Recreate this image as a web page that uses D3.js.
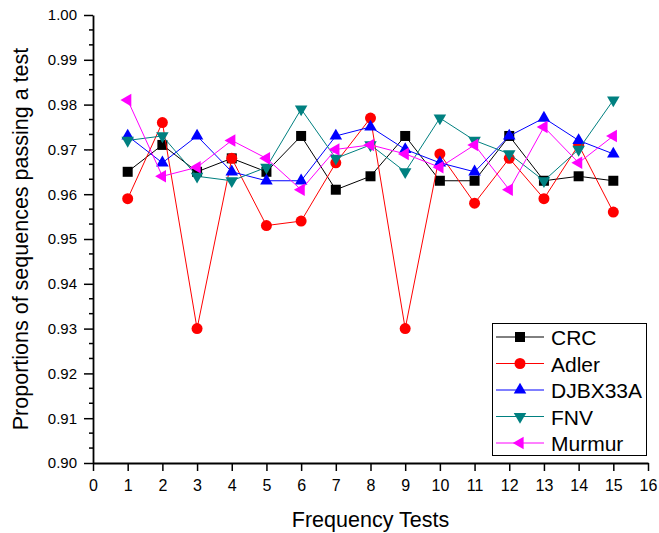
<!DOCTYPE html>
<html>
<head>
<meta charset="utf-8">
<script src="https://cdn.jsdelivr.net/npm/d3@7"></script>
<style>
  body { margin: 0; background: #fff; }
  svg { display: block; font-family: "Liberation Sans", Arial, sans-serif; }
</style>
</head>
<body>
<svg id="chart" width="659" height="533"></svg>
<script>
// Frequency test index (x) for each hash function
const tests = [1, 2, 3, 4, 5, 6, 7, 8, 9, 10, 11, 12, 13, 14, 15];

// Proportion of sequences passing each test
const crc     = [0.965, 0.971, 0.965, 0.968, 0.965, 0.973, 0.961, 0.964, 0.973, 0.963, 0.963, 0.973, 0.963, 0.964, 0.963];
const adler   = [0.959, 0.976, 0.930, 0.968, 0.953, 0.954, 0.967, 0.977, 0.930, 0.969, 0.958, 0.968, 0.959, 0.971, 0.956];
const djbx33a = [0.973, 0.967, 0.973, 0.965, 0.963, 0.963, 0.973, 0.975, 0.970, 0.967, 0.965, 0.973, 0.977, 0.972, 0.969];
const fnv     = [0.972, 0.973, 0.964, 0.963, 0.966, 0.979, 0.968, 0.971, 0.965, 0.977, 0.972, 0.969, 0.963, 0.970, 0.981];
const murmur  = [0.981, 0.964, 0.966, 0.972, 0.968, 0.961, 0.970, 0.971, 0.969, 0.966, 0.971, 0.961, 0.975, 0.967, 0.973];

const seriesNames = ["CRC", "Adler", "DJBX33A", "FNV", "Murmur"];
const xTicks = d3.range(0, 17);
const yTicks = [0.90, 0.91, 0.92, 0.93, 0.94, 0.95, 0.96, 0.97, 0.98, 0.99, 1.00];

const series = [
  { name: seriesNames[0], values: crc,     color: "#000000", shape: d3.symbolSquare,   size: 100, rotate: 0 },
  { name: seriesNames[1], values: adler,   color: "#ff0000", shape: d3.symbolCircle,   size: 95,  rotate: 0 },
  { name: seriesNames[2], values: djbx33a, color: "#0000ff", shape: d3.symbolTriangle, size: 68,  rotate: 0 },
  { name: seriesNames[3], values: fnv,     color: "#008080", shape: d3.symbolTriangle, size: 68,  rotate: 180 },
  { name: seriesNames[4], values: murmur,  color: "#ff00ff", shape: d3.symbolTriangle, size: 68,  rotate: -90 }
];

const svg = d3.select("#chart");
const plotLeft = 93, plotRight = 648, plotTop = 15, plotBottom = 463;

const x = d3.scaleLinear().domain([0, 16]).range([plotLeft, plotRight]);
const y = d3.scaleLinear().domain([0.90, 1.00]).range([plotBottom, plotTop]);

// Minor y ticks (two between each pair of major ticks)
const minor = [];
for (let i = 0; i < yTicks.length - 1; i++) {
  const a = yTicks[i], b = yTicks[i + 1];
  minor.push(a + (b - a) / 3, a + 2 * (b - a) / 3);
}
svg.append("g").selectAll("line").data(minor).join("line")
  .attr("x1", plotLeft - 4).attr("x2", plotLeft)
  .attr("y1", d => y(d)).attr("y2", d => y(d))
  .attr("stroke", "#000").attr("stroke-width", 1.5);

// Y axis
const yAxis = svg.append("g").attr("transform", `translate(${plotLeft},0)`)
  .call(d3.axisLeft(y).tickValues(yTicks).tickFormat(d3.format(".2f")).tickSize(9).tickSizeOuter(0).tickPadding(7));
// X axis
const xAxis = svg.append("g").attr("transform", `translate(0,${plotBottom})`)
  .call(d3.axisBottom(x).tickValues(xTicks).tickFormat(d3.format("d")).tickSize(8).tickSizeOuter(0).tickPadding(9));

[yAxis, xAxis].forEach(g => {
  g.select(".domain").attr("stroke-width", 1.8);
  g.selectAll(".tick line").attr("stroke-width", 1.5);
  g.selectAll(".tick text").attr("font-family", "Liberation Sans, Arial, sans-serif").attr("fill", "#000");
});
yAxis.selectAll(".tick text").attr("font-size", 15);
xAxis.selectAll(".tick text").attr("font-size", 16);

// Axis titles
svg.append("text")
  .attr("x", (plotLeft + plotRight) / 2).attr("y", 527)
  .attr("text-anchor", "middle").attr("font-size", 21.5)
  .text("Frequency Tests");
svg.append("text")
  .attr("transform", `translate(28,${(plotTop + plotBottom) / 2}) rotate(-90)`)
  .attr("text-anchor", "middle").attr("font-size", 21.5)
  .text("Proportions of sequences passing a test");

// Lines and markers
const line = d3.line().x((d, i) => x(tests[i])).y(d => y(d));
series.forEach(s => {
  const g = svg.append("g");
  g.append("path").datum(s.values)
    .attr("d", line).attr("fill", "none")
    .attr("stroke", s.color).attr("stroke-width", 1);
  g.selectAll("path.m").data(s.values).join("path")
    .attr("class", "m")
    .attr("d", d3.symbol().type(s.shape).size(s.size))
    .attr("transform", (d, i) => `translate(${x(tests[i])},${y(d)}) rotate(${s.rotate})`)
    .attr("fill", s.color);
});

// Legend
const lg = svg.append("g");
lg.append("rect").attr("x", 492.5).attr("y", 323.5).attr("width", 154).attr("height", 132)
  .attr("fill", "#fff").attr("stroke", "#000").attr("stroke-width", 1);
series.forEach((s, i) => {
  const cy = 337 + i * 26.5;
  lg.append("line").attr("x1", 496).attr("x2", 544).attr("y1", cy).attr("y2", cy)
    .attr("stroke", s.color).attr("stroke-width", 1);
  lg.append("path")
    .attr("d", d3.symbol().type(s.shape).size(s.size))
    .attr("transform", `translate(520,${cy}) rotate(${s.rotate})`)
    .attr("fill", s.color);
  lg.append("text").attr("x", 551).attr("y", cy + 8)
    .attr("font-size", 21).text(s.name);
});
</script>
</body>
</html>
